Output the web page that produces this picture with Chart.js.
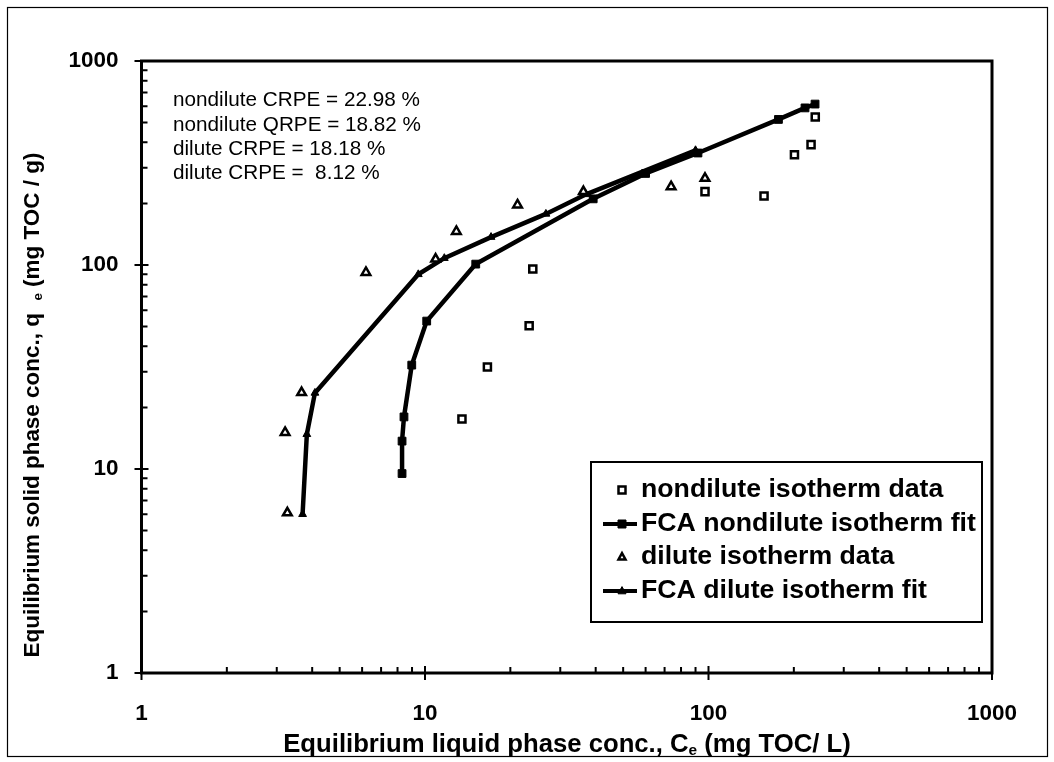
<!DOCTYPE html>
<html>
<head>
<meta charset="utf-8">
<script src="https://cdn.jsdelivr.net/npm/chart.js@4.4.0/dist/chart.umd.min.js"></script>
<style>
html,body{margin:0;padding:0;background:#fff;}
#wrap{width:1054px;height:762px;position:relative;}
canvas{display:block;}
</style>
</head>
<body>
<div id="wrap"><canvas id="c" width="1054" height="762"></canvas></div>
<script>
// ---- data ----
const nondiluteX = [13.5, 16.6, 23.3, 24.0, 97.2, 157, 201, 230, 238];
const nondiluteY = [17.6, 31.6, 50.4, 95.6, 229, 218, 347, 389, 531];
const nondiluteFitX = [8.3, 8.3, 8.43, 8.98, 10.14, 15.1, 39.2, 60, 91.8, 176.5, 219, 237.6];
const nondiluteFitY = [9.5, 13.7, 18.0, 32.3, 53.1, 101, 211, 281, 354, 517, 589, 615];
const diluteX = [3.27, 3.21, 3.67, 6.19, 10.9, 12.9, 21.2, 36.2, 73.8, 97.2];
const diluteY = [6.1, 15.1, 23.7, 92, 107, 146, 197, 229, 242, 266];
const diluteFitX = [3.7, 3.83, 4.09, 9.47, 11.7, 17.1, 26.7, 37, 90];
const diluteFitY = [6.0, 14.8, 23.6, 90, 108, 137, 178, 222, 365];
const xTickLabels = ["1", "10", "100", "1000"];
const yTickLabels = ["1", "10", "100", "1000"];
const seriesNames = ["nondilute isotherm data", "FCA nondilute isotherm fit", "dilute isotherm data", "FCA dilute isotherm fit"];
const statLines = ["nondilute CRPE = 22.98 %", "nondilute QRPE = 18.82 %", "dilute CRPE = 18.18 %", "dilute CRPE =  8.12 %"];

const pts = (xs, ys) => xs.map((x, i) => ({x: x, y: ys[i]}));
const FONT = '"Liberation Sans", Arial, Helvetica, sans-serif';

function fitFont(ctx, text, weight, targetW) {
  ctx.font = weight + ' 20px ' + FONT;
  const w = ctx.measureText(text).width;
  return 20 * targetW / w;
}

const decor = {
  id: 'decor',
  afterDraw(chart) {
    const ctx = chart.ctx;
    const xs = chart.scales.x, ys = chart.scales.y;
    const a = chart.chartArea;
    ctx.save();
    // outer border
    ctx.strokeStyle = '#000';
    ctx.lineWidth = 1.2;
    ctx.strokeRect(7.5, 7.5, 1040, 749);
    // plot frame
    ctx.lineWidth = 3;
    ctx.strokeRect(a.left, a.top, a.right - a.left, a.bottom - a.top);
    // ticks
    ctx.lineWidth = 2;
    ctx.beginPath();
    for (let d = 1; d <= 1000; d *= 10) {
      for (let m = 1; m <= 9; m++) {
        const v = d * m;
        if (v > 1000) break;
        const px = xs.getPixelForValue(v);
        const py = ys.getPixelForValue(v);
        if (m === 1) {
          ctx.moveTo(px, a.bottom - 7); ctx.lineTo(px, a.bottom + 7);
          ctx.moveTo(a.left - 7, py); ctx.lineTo(a.left + 7, py);
        } else {
          ctx.moveTo(px, a.bottom); ctx.lineTo(px, a.bottom - 6);
          ctx.moveTo(a.left, py); ctx.lineTo(a.left + 6, py);
        }
      }
    }
    ctx.stroke();
    // tick labels
    ctx.fillStyle = '#000';
    const tfs = fitFont(ctx, '1000', 'bold', 50);
    ctx.font = 'bold ' + tfs + 'px ' + FONT;
    ctx.textBaseline = 'middle';
    ctx.textAlign = 'center';
    xTickLabels.forEach(l => ctx.fillText(l, xs.getPixelForValue(+l), a.bottom + 41));
    ctx.textAlign = 'right';
    yTickLabels.forEach(l => ctx.fillText(l, a.left - 23, ys.getPixelForValue(+l)));

    // axis titles with subscript
    function drawSubTitle(parts, cx, cy, totalW) {
      let w0 = 0;
      parts.forEach(p => { ctx.font = 'bold ' + (p.sub ? 12 : 20) + 'px ' + FONT; w0 += ctx.measureText(p.t).width; });
      const fs = 20 * totalW / w0;
      let w = 0;
      parts.forEach(p => { ctx.font = 'bold ' + (p.sub ? fs * 0.6 : fs) + 'px ' + FONT; w += ctx.measureText(p.t).width; });
      let x = cx - w / 2;
      ctx.textAlign = 'left';
      ctx.textBaseline = 'alphabetic';
      parts.forEach(p => {
        ctx.font = 'bold ' + (p.sub ? fs * 0.6 : fs) + 'px ' + FONT;
        ctx.fillText(p.t, x, cy + fs * 0.36 + (p.sub ? fs * 0.12 : 0));
        x += ctx.measureText(p.t).width;
      });
    }
    drawSubTitle([{t: 'Equilibrium liquid phase conc., C'}, {t: 'e', sub: true}, {t: ' (mg TOC/ L)'}], 567, 743, 568);
    ctx.save();
    ctx.translate(31, 405);
    ctx.rotate(-Math.PI / 2);
    drawSubTitle([{t: 'Equilibrium solid phase conc., q  '}, {t: 'e', sub: true}, {t: ' (mg TOC / g)'}], 0, 0, 505);
    ctx.restore();

    // stats text
    const sfs = fitFont(ctx, statLines[0], 'normal', 247);
    ctx.font = sfs + 'px ' + FONT;
    ctx.textAlign = 'left';
    ctx.textBaseline = 'middle';
    const sy = [100, 125, 149, 173];
    statLines.forEach((s, i) => ctx.fillText(s, 173, sy[i]));

    // legend
    const lx = 591, ly = 462, lw = 391, lh = 160;
    ctx.fillStyle = '#fff';
    ctx.fillRect(lx, ly, lw, lh);
    ctx.lineWidth = 2;
    ctx.strokeStyle = '#000';
    ctx.strokeRect(lx, ly, lw, lh);
    const lfs = fitFont(ctx, seriesNames[1], 'bold', 335);
    const rows = [490, 524, 557, 591];
    const symX = 622;
    rows.forEach((ry, i) => {
      const ds = chart.data.datasets[i];
      ctx.strokeStyle = '#000';
      if (ds.showLine) {
        ctx.lineWidth = 4;
        ctx.beginPath(); ctx.moveTo(603, ry); ctx.lineTo(637, ry); ctx.stroke();
      }
      ctx.fillStyle = ds.pointBackgroundColor;
      ctx.lineWidth = ds.pointBorderWidth;
      ctx.beginPath();
      const r = ds.showLine ? 4 : 3.5;
      if (ds.pointStyle === 'rect') { ctx.rect(symX - r, ry - r, 2 * r, 2 * r); }
      else { ctx.moveTo(symX, ry - r * 1.1); ctx.lineTo(symX + r, ry + r * 0.7); ctx.lineTo(symX - r, ry + r * 0.7); ctx.closePath(); }
      ctx.fill(); ctx.stroke();
      ctx.fillStyle = '#000';
      ctx.font = 'bold ' + lfs + 'px ' + FONT;
      ctx.textAlign = 'left';
      ctx.fillText(seriesNames[i], 641, ry);
    });
    ctx.restore();
  }
};

new Chart(document.getElementById('c'), {
  type: 'scatter',
  data: {
    datasets: [
      {label: seriesNames[0], data: pts(nondiluteX, nondiluteY), pointStyle: 'rect', pointRadius: 5, pointBorderWidth: 2.5,
       pointBackgroundColor: '#fff', pointBorderColor: '#000', showLine: false},
      {label: seriesNames[1], data: pts(nondiluteFitX, nondiluteFitY), pointStyle: 'rect', pointRadius: 5.5, pointBorderWidth: 1,
       pointBackgroundColor: '#000', pointBorderColor: '#000', showLine: true, borderColor: '#000', borderWidth: 4.5},
      {label: seriesNames[2], data: pts(diluteX, diluteY), pointStyle: 'triangle', pointRadius: 5, pointBorderWidth: 2.5,
       pointBackgroundColor: '#fff', pointBorderColor: '#000', showLine: false},
      {label: seriesNames[3], data: pts(diluteFitX, diluteFitY), pointStyle: 'triangle', pointRadius: 4.5, pointBorderWidth: 1,
       pointBackgroundColor: '#000', pointBorderColor: '#000', showLine: true, borderColor: '#000', borderWidth: 4.5}
    ]
  },
  options: {
    responsive: false,
    animation: false,
    devicePixelRatio: 1,
    layout: {padding: {left: 141.5, top: 61, right: 1054 - 992, bottom: 762 - 673}},
    plugins: {legend: {display: false}, tooltip: {enabled: false}, title: {display: false}},
    scales: {
      x: {type: 'logarithmic', min: 1, max: 1000, display: false},
      y: {type: 'logarithmic', min: 1, max: 1000, display: false}
    },
    elements: {line: {tension: 0}}
  },
  plugins: [decor]
});
</script>
</body>
</html>
